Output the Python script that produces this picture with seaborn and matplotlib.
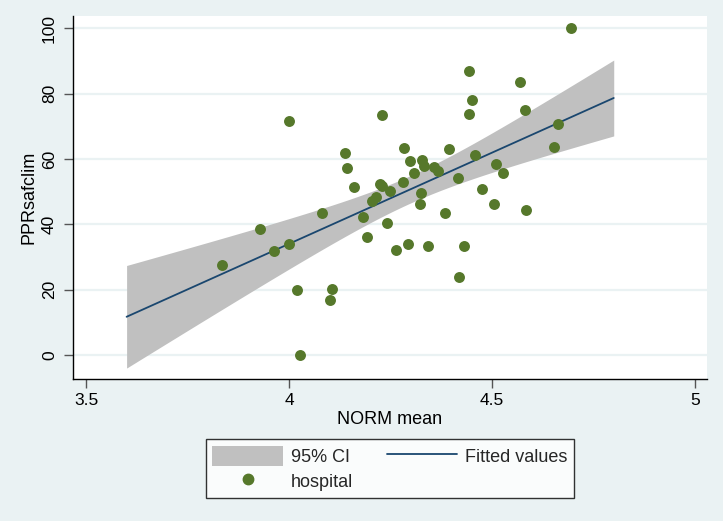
import numpy as np
import pandas as pd
import matplotlib
matplotlib.use("Agg")
import matplotlib.pyplot as plt
from matplotlib.patches import Patch
from matplotlib.lines import Line2D
import seaborn as sns

# Hospital-level observations: NORM mean vs PPRsafclim
norm_mean = [3.834, 3.928, 3.962, 4.000, 4.000, 4.020, 4.028, 4.082, 4.102, 4.107,
             4.138, 4.143, 4.159, 4.182, 4.191, 4.204, 4.214, 4.223, 4.229, 4.229,
             4.242, 4.248, 4.264, 4.280, 4.284, 4.293, 4.299, 4.307, 4.323, 4.326,
             4.327, 4.333, 4.343, 4.357, 4.366, 4.384, 4.395, 4.417, 4.418, 4.430,
             4.444, 4.444, 4.452, 4.458, 4.475, 4.505, 4.511, 4.528, 4.569, 4.582,
             4.584, 4.654, 4.662, 4.694]
ppr_safclim = [27.6, 38.5, 31.8, 34.0, 71.5, 20.0, 0.0, 43.5, 17.0, 20.1,
               61.7, 57.2, 51.4, 42.3, 36.1, 47.1, 48.5, 52.3, 51.7, 73.5,
               40.5, 50.2, 32.0, 52.9, 63.3, 33.9, 59.4, 55.7, 46.1, 49.6,
               59.6, 57.8, 33.3, 57.6, 56.4, 43.5, 63.0, 54.2, 23.8, 33.3,
               86.8, 73.8, 77.9, 61.2, 50.7, 46.2, 58.4, 55.7, 83.4, 75.0,
               44.4, 63.7, 70.6, 100.0]

x_ticks = [3.5, 4, 4.5, 5]
x_tick_labels = ["3.5", "4", "4.5", "5"]
y_ticks = [0, 20, 40, 60, 80, 100]
fit_range = (3.6, 4.8)
T_CRIT = 2.007  # two-sided 95% t critical value, df = n - 2

df = pd.DataFrame({"NORM mean": norm_mean, "PPRsafclim": ppr_safclim})

# OLS fit with confidence interval of the mean prediction
x = df["NORM mean"].to_numpy()
y = df["PPRsafclim"].to_numpy()
n = len(x)
slope, intercept = np.polyfit(x, y, 1)
resid = y - (intercept + slope * x)
s = np.sqrt(np.sum(resid ** 2) / (n - 2))
xbar = x.mean()
sxx = np.sum((x - xbar) ** 2)
grid = np.linspace(fit_range[0], fit_range[1], 200)
yhat = intercept + slope * grid
se = s * np.sqrt(1.0 / n + (grid - xbar) ** 2 / sxx)
fit_df = pd.DataFrame({"x": grid, "yhat": yhat,
                       "lo": yhat - T_CRIT * se, "hi": yhat + T_CRIT * se})

BG = "#eaf2f3"
GREEN = "#56782b"
NAVY = "#1a476f"
CI_GRAY = "#c0c0c0"
TICK_GRAY = "#555555"
TICK_FS = 12.5
LABEL_FS = 13

sns.set_theme(style="white")
plt.rcParams["font.family"] = ["Liberation Sans", "DejaVu Sans"]

fig = plt.figure(figsize=(7.23, 5.21), dpi=100, facecolor=BG)
ax = fig.add_axes([0.101, 0.2726, 0.877, 0.6965])
ax.set_facecolor("white")

ax.fill_between(fit_df["x"], fit_df["lo"], fit_df["hi"], color=CI_GRAY, lw=0, zorder=1)
sns.lineplot(data=fit_df, x="x", y="yhat", color=NAVY, lw=1.3, ax=ax, zorder=2)
sns.scatterplot(data=df, x="NORM mean", y="PPRsafclim", color=GREEN, s=62,
                edgecolor=GREEN, linewidth=0, ax=ax, zorder=3)

ax.set_xlim(3.468, 5.030)
ax.set_ylim(-7.3, 103.7)
ax.set_xticks(x_ticks)
ax.set_xticklabels(x_tick_labels)
ax.set_yticks(y_ticks)
ax.set_yticklabels([str(v) for v in y_ticks], rotation=90, va="center")
for yv in y_ticks:
    ax.axhline(yv, color=BG, lw=1.6, zorder=0)

for side in ["top", "right"]:
    ax.spines[side].set_visible(False)
for side in ["left", "bottom"]:
    ax.spines[side].set_color("black")
    ax.spines[side].set_linewidth(1.0)
ax.tick_params(axis="both", direction="out", length=6.5, width=1, color=TICK_GRAY,
               labelsize=TICK_FS, labelcolor="black", left=True, bottom=True)
ax.tick_params(axis="y", pad=5)
ax.tick_params(axis="x", pad=3.5)
ax.set_xlabel("NORM mean", fontsize=LABEL_FS, color="black", labelpad=2)
ax.set_ylabel("PPRsafclim", fontsize=LABEL_FS, color="black", labelpad=3)

handles = [Patch(facecolor=CI_GRAY, edgecolor="none"),
           Line2D([], [], marker="o", ls="none", color=GREEN, markersize=7.5),
           Line2D([], [], color=NAVY, lw=1.3)]
labels = ["95% CI", "hospital", "Fitted values"]
leg = fig.legend(handles, labels, ncol=2, loc="center",
                 bbox_to_anchor=(390 / 723, 1 - 468.5 / 521), frameon=True,
                 fancybox=False, edgecolor="black", facecolor="white",
                 fontsize=LABEL_FS, handlelength=3.9, handleheight=1.35,
                 columnspacing=1.85, handletextpad=0.45, borderpad=0.35,
                 labelspacing=0.3, borderaxespad=0)
leg.get_frame().set_linewidth(1.0)

fig.savefig("out.png", dpi=100, facecolor=BG)
